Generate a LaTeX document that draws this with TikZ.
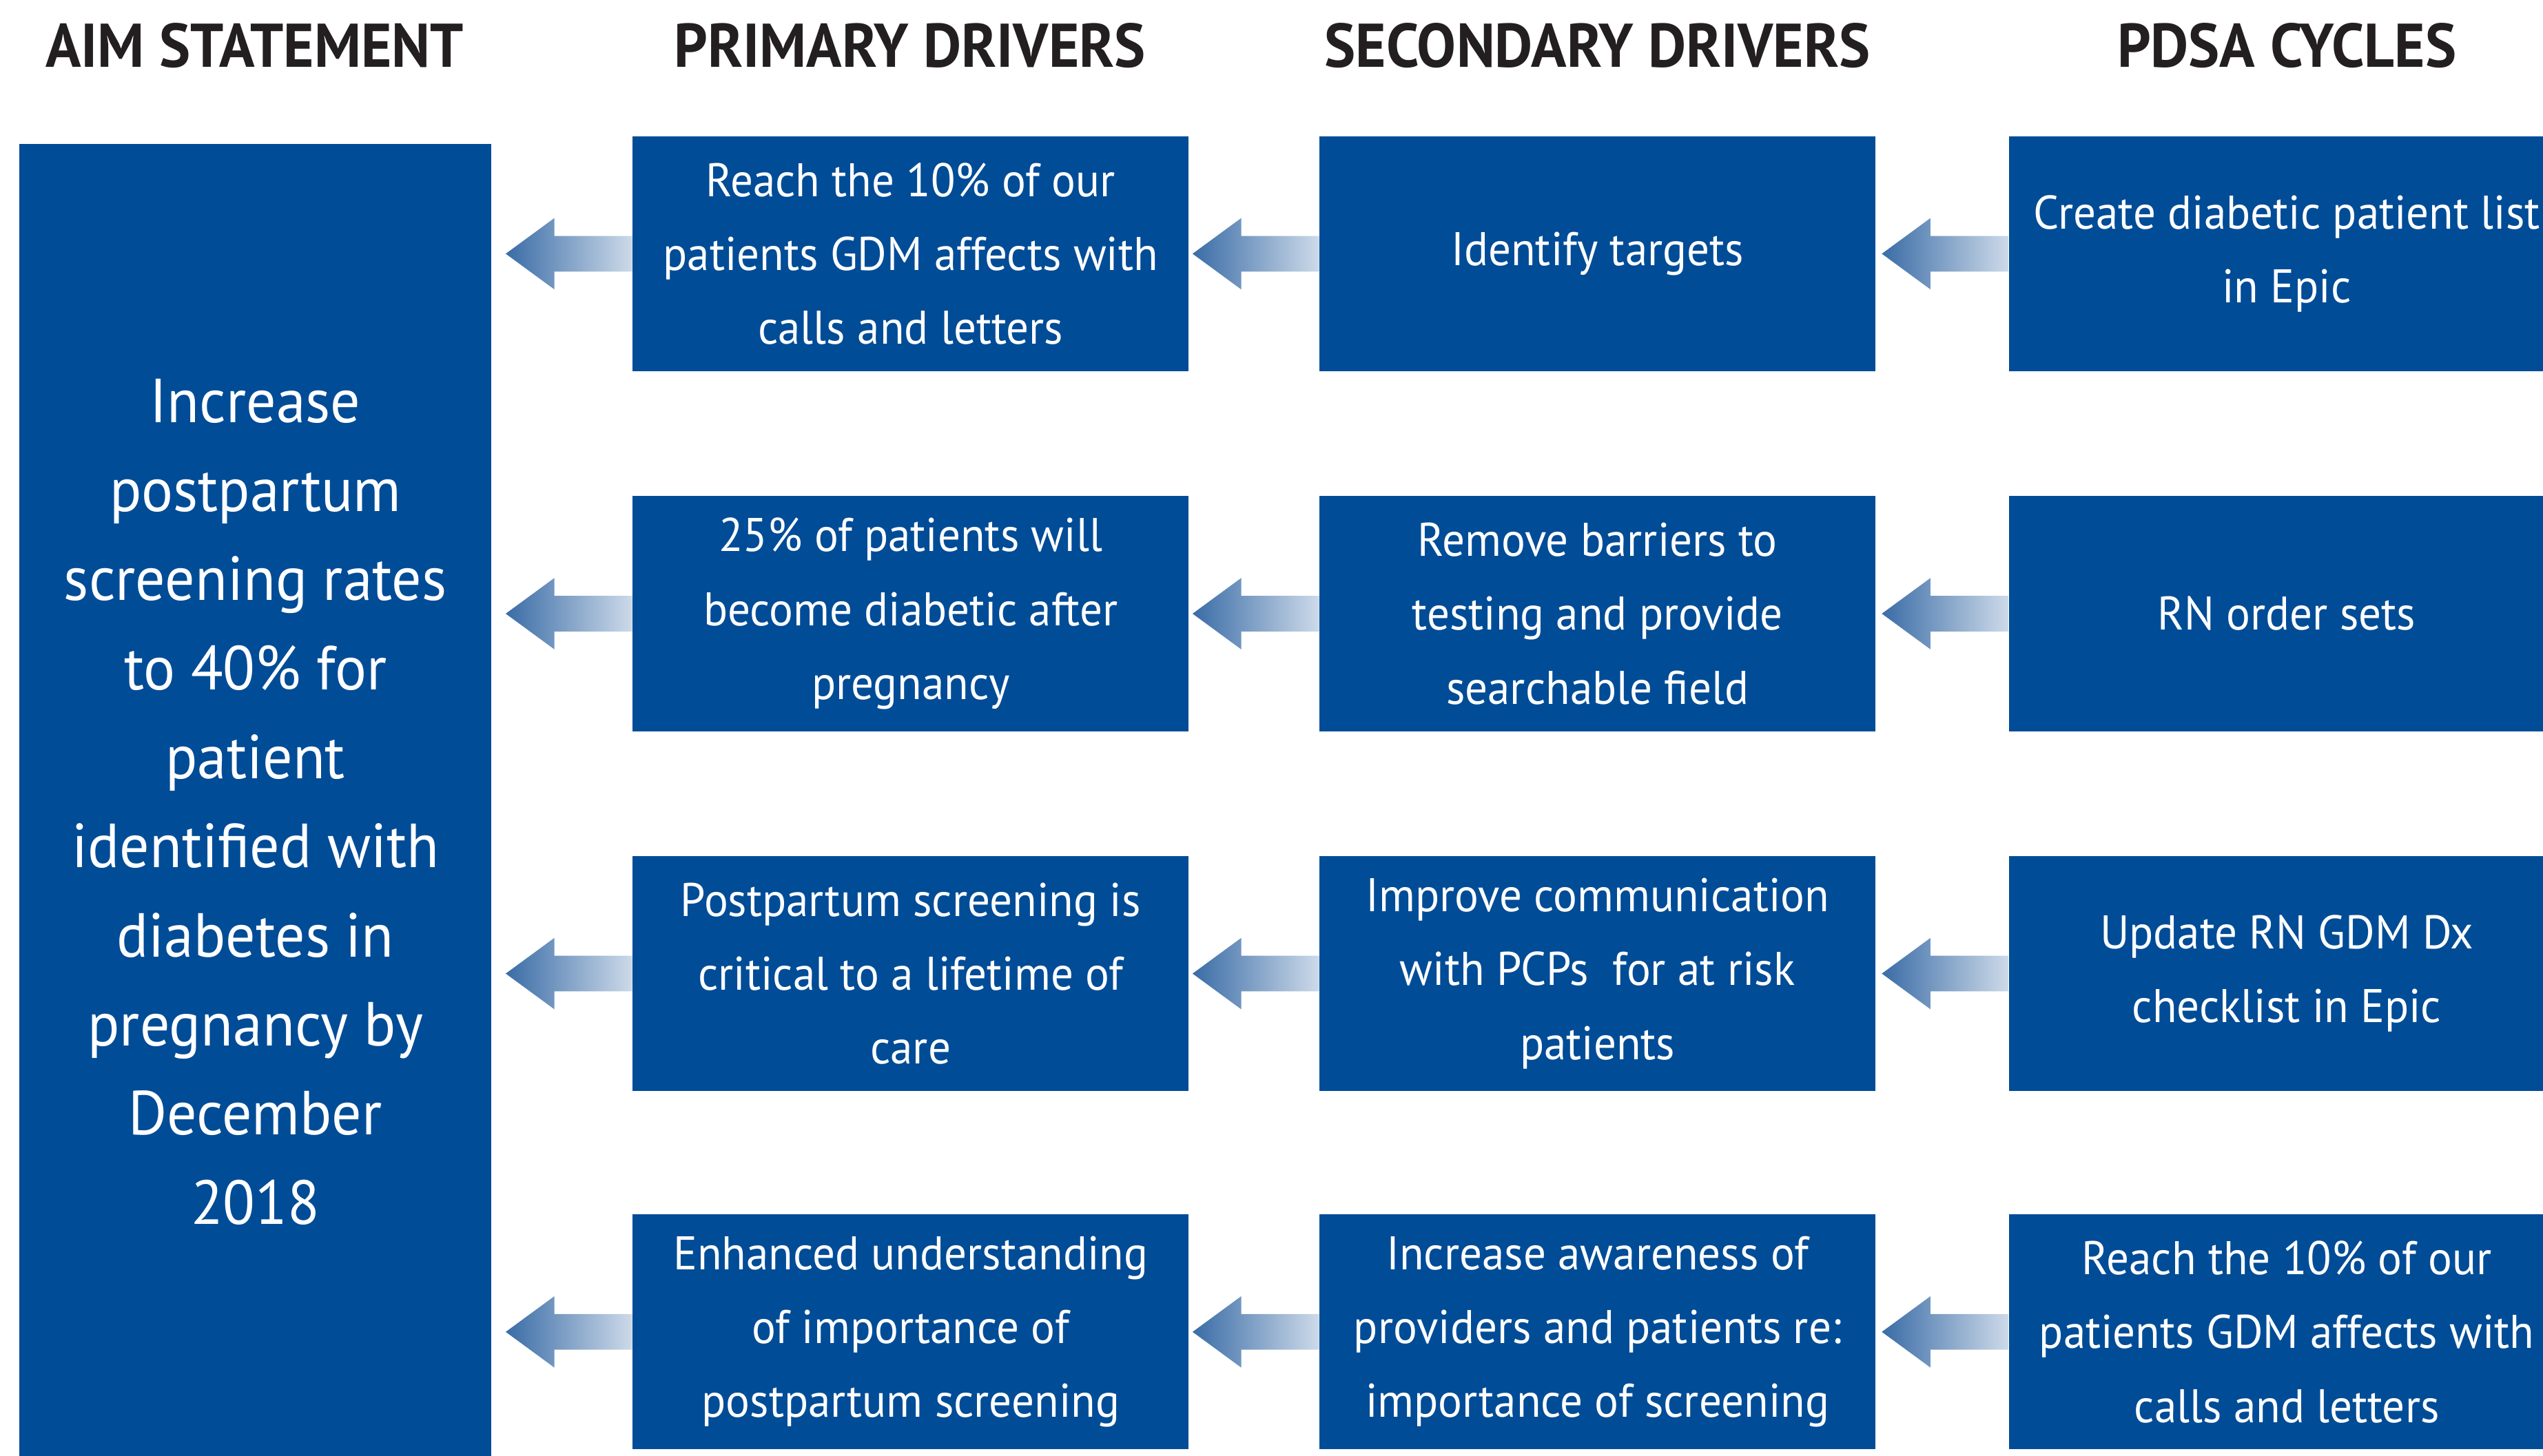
\documentclass[tikz,border=0pt]{standalone}
\usepackage{fontspec}
\setmainfont{PT Sans}[FakeStretch=0.95]
\usepackage{tikz}

\definecolor{boxblue}{RGB}{0,76,151}
\definecolor{arrowdark}{RGB}{58,108,166}
\definecolor{arrowlight}{RGB}{205,218,233}
\definecolor{headgray}{RGB}{35,31,32}

% shaded block arrow pointing left from a box
\newcommand{\gradarrow}[1]{%
  \shade[left color=arrowdark, right color=arrowlight] (#1.west) ++(0,-11) -- ++(-48,0) -- ++(0,-11)
    -- ++(-30,22) -- ++(30,22) -- ++(0,-11) -- ++(48,0) -- cycle;}

\begin{document}
\begin{tikzpicture}[x=0.02354cm,y=-0.02354cm,
  head/.style={font=\fontsize{25.5}{30}\selectfont\bfseries, text=headgray},
  driver/.style={fill=boxblue, text=white, minimum width=8.07cm, minimum height=3.413cm,
    align=center, inner sep=0pt, font=\fontsize{19.5}{30.5}\selectfont},
  aimbox/.style={fill=boxblue, text=white, minimum width=6.85cm, minimum height=19.1cm,
    align=center, inner sep=0pt, font=\fontsize{25.7}{36.8}\selectfont}]

	\clip (0,0) rectangle (1568,898);

	\node[head] (haim) at (157,28)   {AIM STATEMENT};
	\node[head] (hpri) at (561,28)   {PRIMARY DRIVERS};
	\node[head] (hsec) at (985,28)   {SECONDARY DRIVERS};
	\node[head] (hpdsa) at (1410,28) {PDSA CYCLES};

	\node[aimbox] (aim) at (157.5,494.5) {Increase\\postpartum\\screening rates\\to 40\% for\\patient\\identified with\\diabetes in\\pregnancy by\\December\\2018};

	\node[driver] (p1) at (561.5,156.5) {Reach the 10\% of our\\patients GDM affects with\\calls and letters};
	\node[driver] (p2) at (561.5,378.5) {25\% of patients will\\become diabetic after\\pregnancy};
	\node[driver] (p3) at (561.5,600.5) {Postpartum screening is\\critical to a lifetime of\\care};
	\node[driver] (p4) at (561.5,821.5) {Enhanced understanding\\of importance of\\postpartum screening};

	\node[driver] (s1) at (985,156.5) {Identify targets};
	\node[driver] (s2) at (985,378.5) {Remove barriers to\\testing and provide\\searchable field};
	\node[driver] (s3) at (985,600.5) {Improve communication\\with PCPs\ \ for at risk\\patients};
	\node[driver] (s4) at (985,821.5) {Increase awareness of\\providers and patients re:\\importance of screening};

	\node[driver] (c1) at (1410,156.5) {Create diabetic patient list\\in Epic};
	\node[driver] (c2) at (1410,378.5) {RN order sets};
	\node[driver] (c3) at (1410,600.5) {Update RN GDM Dx\\checklist in Epic};
	\node[driver] (c4) at (1410,821.5) {Reach the 10\% of our\\patients GDM affects with\\calls and letters};

	\foreach \n in {p1,p2,p3,p4,s1,s2,s3,s4,c1,c2,c3,c4}
		\gradarrow{\n};

\end{tikzpicture}
\end{document}
